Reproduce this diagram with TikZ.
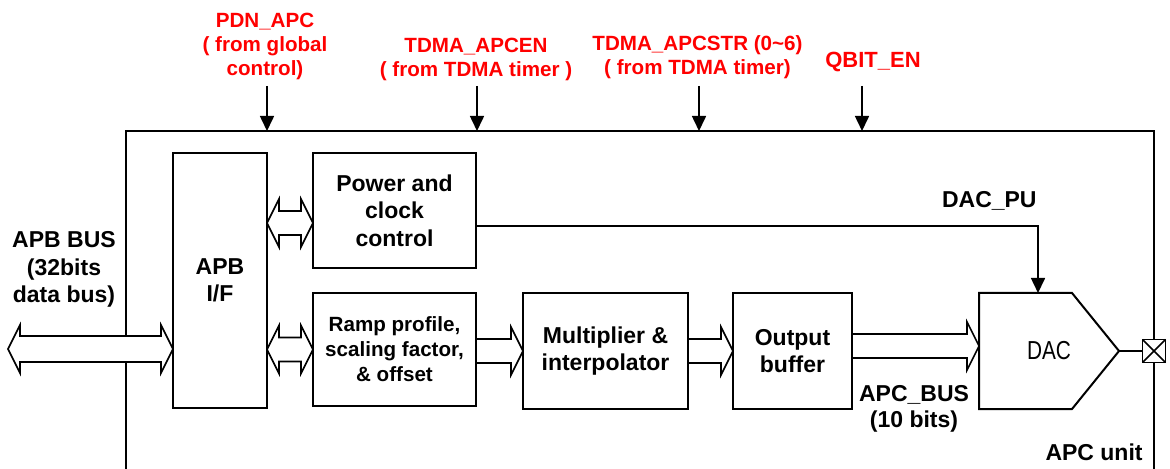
\documentclass[tikz,border=0pt]{standalone}
\usepackage{fontspec}
\setmainfont{Liberation Sans}
\newfontfamily\narrowsans[FakeStretch=0.8]{Liberation Sans}
\usepackage{tikz}
\usetikzlibrary{arrows.meta,positioning,calc}
\tikzset{
  blk/.style={rectangle, draw=black, line width=1pt, fill=white, inner sep=0pt, outer sep=0pt,
    align=center, font=\fontsize{11.5}{13.75}\selectfont\bfseries},
  sig/.style={-{Triangle[length=7.5pt,width=7pt]}, line width=0.8pt},
  lbl/.style={inner sep=0pt, align=center, font=\fontsize{11.5}{13.75}\selectfont\bfseries},
  redlbl/.style={inner sep=0pt, align=center, text=red, font=\fontsize{10.3}{12}\selectfont\bfseries},
  bus/.style={draw, line width=0.8pt, fill=white, to path={
    let \p1=(\tikztostart), \p2=(\tikztotarget) in
    (\x1,\y1+#1) -- (\x2-6pt,\y1+#1) -- (\x2-6pt,\y1+12pt) -- (\x2,\y1)
    -- (\x2-6pt,\y1-12pt) -- (\x2-6pt,\y1-#1) -- (\x1,\y1-#1) -- cycle}},
  bus/.default=6pt,
  busboth/.style={draw, line width=0.8pt, fill=white, to path={
    let \p1=(\tikztostart), \p2=(\tikztotarget) in
    (\x1,\y1) -- (\x1+6pt,\y1+12pt) -- (\x1+6pt,\y1+#1) -- (\x2-6pt,\y1+#1)
    -- (\x2-6pt,\y1+12pt) -- (\x2,\y1) -- (\x2-6pt,\y1-12pt) -- (\x2-6pt,\y1-#1)
    -- (\x1+6pt,\y1-#1) -- (\x1+6pt,\y1-12pt) -- cycle}},
  busboth/.default=6pt,
}

\begin{document}
\begin{tikzpicture}[x=0.5pt, y=-0.5pt]
    \useasboundingbox (0,0) rectangle (1170,469);

    \node[draw, line width=0.8pt, minimum width=514pt, minimum height=179.5pt, inner sep=0pt, outer sep=0pt] (frame) at (640,310.5) {};

    \node[blk, minimum width=47pt, minimum height=127.5pt] (apb) at (220,280.5) {APB\\ I/F};
    \node[blk, minimum width=81.5pt, minimum height=57.5pt, right=23pt of apb.north east, anchor=north west] (pwr) {Power and\\ clock\\ control};
    \node[blk, minimum width=81.5pt, minimum height=56.5pt, below=12.5pt of pwr,
      font=\fontsize{10.3}{12.5}\selectfont\bfseries] (ramp) {Ramp profile,\\ scaling factor,\\ \& offset};
    \node[blk, minimum width=82.5pt, minimum height=58pt, right=23.5pt of ramp, yshift=-0.75pt] (mul) {Multiplier \&\\ interpolator};
    \node[blk, minimum width=59.5pt, minimum height=58pt, right=22.5pt of mul] (outb) {Output\\ buffer};
    \node[minimum width=70pt, minimum height=58pt, inner sep=0pt, outer sep=0pt, right=63.5pt of outb,
      font=\fontsize{13}{15}\selectfont\narrowsans] (dac) {DAC};
    \draw[line width=1pt] (dac.south west) -- (dac.north west) -- ($(dac.north east)+(-47,0)$)
      -- (dac.east) -- ($(dac.south east)+(-47,0)$) -- cycle;

    \draw[line width=0.8pt] (dac.east) -- (dac.east -| frame.east);
    \node[draw, line width=0.8pt, fill=white, minimum size=11.5pt, inner sep=0pt, outer sep=0pt] (pin) at (dac.east -| frame.east) {};
    \draw[line width=0.8pt] (pin.north west) -- (pin.south east) (pin.south west) -- (pin.north east);

    \coordinate (busend) at (8,349);
    \draw[busboth=6.5pt] (busend) to (busend -| apb.west);
    \draw[busboth] ($(pwr.west -| apb.east)+(0,12.5)$) to ($(pwr.west)+(0,12.5)$);
    \draw[busboth] (ramp.west -| apb.east) to (ramp.west);
    \draw[bus] (ramp.east |- mul.west) to (mul.west);
    \draw[bus] (mul.east) to (outb.west);
    \draw[bus] ($(outb.east)+(0,-5)$) to ($(dac.west)+(0,-5)$);
    \draw[sig] ($(pwr.east)+(0,15.5)$) -| ($(dac.north)+(-11,0)$);

    \node[redlbl, anchor=north] (pdn) at (265,12.3) {PDN\_APC\\ ( from global\\ control)};
    \node[redlbl, anchor=north] (apcen) at (476,37.3) {TDMA\_APCEN\\ ( from TDMA timer )};
    \node[redlbl, anchor=north] (apcstr) at (697.5,35.3) {TDMA\_APCSTR (0\textasciitilde 6)\\ ( from TDMA timer)};
    \node[redlbl, anchor=base, font=\fontsize{11}{13}\selectfont\bfseries] (qbit) at (873,68) {QBIT\_EN};

    \coordinate (pdnsrc) at (267,86);
    \coordinate (apcensrc) at (477,86);
    \coordinate (apcstrsrc) at (699,86);
    \coordinate (qbitsrc) at (862,86);
    \draw[sig] (pdnsrc) -- (pdnsrc |- frame.north);
    \draw[sig] (apcensrc) -- (apcensrc |- frame.north);
    \draw[sig] (apcstrsrc) -- (apcstrsrc |- frame.north);
    \draw[sig] (qbitsrc) -- (qbitsrc |- frame.north);

    \node[lbl, anchor=north] (apbbus) at (64,231.5) {APB BUS\\ (32bits\\ data bus)};
    \node[lbl, anchor=base east] (dacpu) at (1037,208) {DAC\_PU};
    \node[lbl, anchor=north, font=\fontsize{11.5}{13}\selectfont\bfseries] (apcbus) at (914,385.5) {APC\_BUS\\ (10 bits)};
    \node[lbl, anchor=base east] (apcunit) at (1143,460) {APC unit};
  \end{tikzpicture}
\end{document}
